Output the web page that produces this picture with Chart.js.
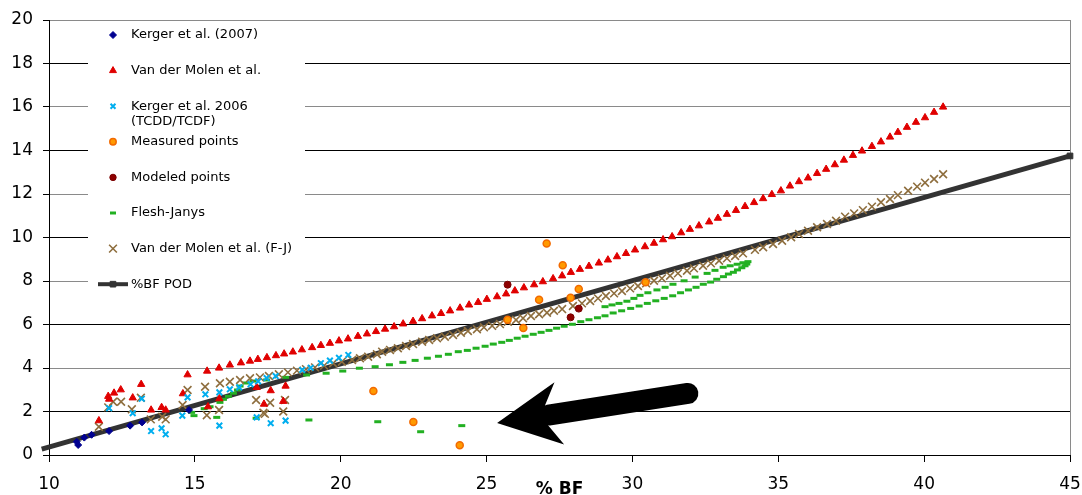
<!DOCTYPE html>
<html>
<head>
<meta charset="utf-8">
<script src="https://cdn.jsdelivr.net/npm/chart.js@4.4.1/dist/chart.umd.min.js"></script>
<style>
  body { margin: 0; background: #fff; }
</style>
</head>
<body>
<canvas id="bf" width="1082" height="495"></canvas>
<script>
// values (%BF on x, y axis 0-20)

const kerger2007X = [10.95, 11.00, 11.21, 11.46, 12.06, 12.78, 13.19, 14.80];
const kerger2007Y = [0.61, 0.46, 0.80, 0.93, 1.10, 1.35, 1.50, 2.07];

const vdmScatterX = [11.71, 12.03, 12.06, 12.23, 12.46, 12.87, 13.16, 13.50, 13.86, 14.00, 14.59, 14.75, 15.45, 15.84, 17.12, 17.37, 17.60, 18.03, 18.11];
const vdmScatterY = [1.58, 2.70, 2.57, 2.85, 3.00, 2.63, 3.25, 2.07, 2.19, 2.07, 2.82, 3.69, 2.22, 2.59, 3.11, 2.34, 2.96, 2.47, 3.17];
const vdmCurveX = [15.42, 15.83, 16.20, 16.58, 16.89, 17.16, 17.47, 17.78, 18.06, 18.36,
  18.67, 19.02, 19.32, 19.63, 19.94, 20.25, 20.59, 20.90, 21.21, 21.52,
  21.83, 22.14, 22.48, 22.79, 23.13, 23.44, 23.75, 24.09, 24.40, 24.71,
  25.01, 25.36, 25.67, 25.97, 26.28, 26.63, 26.93, 27.28, 27.59, 27.89,
  28.20, 28.51, 28.85, 29.16, 29.47, 29.78, 30.09, 30.43, 30.74, 31.05,
  31.36, 31.67, 31.97, 32.28, 32.63, 32.93, 33.24, 33.55, 33.86, 34.17,
  34.48, 34.78, 35.09, 35.40, 35.71, 36.02, 36.33, 36.64, 36.94, 37.25,
  37.56, 37.87, 38.21, 38.52, 38.83, 39.10, 39.41, 39.72, 40.03, 40.34, 40.65];
const vdmCurveY = [3.86, 4.00, 4.14, 4.24, 4.32, 4.40, 4.48, 4.57, 4.65, 4.74,
  4.84, 4.94, 5.04, 5.14, 5.25, 5.34, 5.46, 5.57, 5.68, 5.79,
  5.90, 6.03, 6.15, 6.27, 6.40, 6.51, 6.63, 6.76, 6.90, 7.02,
  7.16, 7.28, 7.41, 7.55, 7.69, 7.83, 7.97, 8.11, 8.24, 8.40,
  8.54, 8.68, 8.83, 8.97, 9.12, 9.27, 9.43, 9.58, 9.74, 9.90,
  10.04, 10.22, 10.38, 10.54, 10.72, 10.89, 11.07, 11.25, 11.43, 11.61,
  11.79, 11.98, 12.15, 12.37, 12.57, 12.74, 12.95, 13.14, 13.35, 13.56,
  13.78, 13.98, 14.19, 14.40, 14.62, 14.84, 15.07, 15.30, 15.51, 15.76, 16.00];

const kerger2006X = [12.06, 12.87, 13.18, 13.50, 13.86, 14.00, 14.57, 14.75, 15.36, 15.84, 15.84, 16.20, 16.52,
  16.91, 17.17, 17.46, 17.77, 17.12, 17.60, 18.11, 18.68, 18.97, 19.32, 19.63, 19.94, 20.26];
const kerger2006Y = [2.15, 1.92, 2.59, 1.10, 1.23, 0.95, 1.81, 2.65, 2.79, 2.88, 1.35, 3.02, 3.11,
  3.25, 3.39, 3.54, 3.63, 1.73, 1.46, 1.58, 3.91, 4.01, 4.22, 4.34, 4.47, 4.60];

const measuredX = [21.12, 22.49, 24.08, 25.72, 26.26, 26.80, 27.06, 27.61, 27.88, 28.16, 30.45];
const measuredY = [2.94, 1.52, 0.45, 6.22, 5.84, 7.14, 9.72, 8.72, 7.23, 7.63, 7.94];

const modeledX = [25.72, 27.88, 28.16];
const modeledY = [7.83, 6.33, 6.73];

const fjLowerX = [14.89, 14.97, 15.32, 15.52, 15.86, 15.98, 16.15, 16.32, 16.46, 16.55, 16.75, 16.99, 17.46,
  18.11, 18.83, 19.50, 20.07, 20.64, 21.18, 21.67, 22.13, 22.55, 22.97, 23.35, 23.69, 24.03, 24.34,
  24.64, 24.95, 25.23, 25.52, 25.78, 26.05, 26.32, 26.60, 26.87, 27.14, 27.40, 27.66, 27.94, 28.23,
  28.51, 28.80, 29.06, 29.34, 29.63, 29.94, 30.23, 30.51, 30.80, 31.09, 31.38, 31.65, 31.92, 32.18,
  32.43, 32.68, 32.89, 33.12, 33.29, 33.46, 33.60, 33.75, 33.86, 33.92];
const fjLowerY = [1.96, 1.81, 2.13, 2.22, 2.42, 2.56, 2.70, 2.84, 2.99, 3.17, 3.31, 3.40, 3.45,
  3.57, 3.68, 3.76, 3.86, 3.99, 4.06, 4.15, 4.26, 4.35, 4.45, 4.54, 4.63, 4.75, 4.81,
  4.91, 5.00, 5.10, 5.18, 5.27, 5.37, 5.46, 5.55, 5.64, 5.73, 5.83, 5.92, 6.01, 6.13,
  6.22, 6.31, 6.40, 6.53, 6.63, 6.74, 6.85, 6.97, 7.09, 7.20, 7.32, 7.46, 7.59, 7.71,
  7.85, 7.95, 8.08, 8.20, 8.32, 8.40, 8.51, 8.61, 8.70, 8.78];
const fjUpperX = [29.06, 29.30, 29.54, 29.81, 30.05, 30.26, 30.53, 30.84, 31.12, 31.39, 31.77, 32.15, 32.56, 32.83, 33.11, 33.35, 33.59, 33.79, 33.96];
const fjUpperY = [6.82, 6.90, 6.97, 7.07, 7.20, 7.34, 7.46, 7.59, 7.71, 7.85, 8.01, 8.18, 8.35, 8.49, 8.63, 8.70, 8.77, 8.84, 8.89];
const fjLooseX = [15.75, 17.10, 18.91, 21.27, 22.74, 24.15];
const fjLooseY = [1.73, 1.69, 1.61, 1.53, 1.07, 1.35];

const vdmFjScatterX = [11.71, 12.03, 12.20, 12.47, 12.84, 13.15, 13.49, 13.88, 14.00, 14.58, 14.75, 15.41, 15.83, 17.10, 17.35, 17.40, 17.58, 18.03, 18.09];
const vdmFjScatterY = [1.30, 2.19, 2.45, 2.45, 2.10, 2.63, 1.64, 1.76, 1.64, 2.30, 2.99, 1.83, 2.07, 2.53, 1.94, 1.89, 2.40, 2.00, 2.53];
const vdmFjCurveX = [15.35, 15.86, 16.20, 16.55, 16.89, 17.23, 17.54, 17.88, 18.19, 18.50,
  18.81, 19.12, 19.43, 19.74, 20.04, 20.39, 20.66, 20.94, 21.24, 21.42,
  21.69, 21.96, 22.24, 22.48, 22.79, 23.03, 23.30, 23.57, 23.85, 24.12,
  24.36, 24.67, 24.91, 25.19, 25.46, 25.73, 26.01, 26.25, 26.52, 26.80,
  27.07, 27.31, 27.59, 27.96, 28.27, 28.55, 28.82, 29.09, 29.37, 29.64,
  29.92, 30.19, 30.47, 30.74, 31.01, 31.29, 31.56, 31.87, 32.11, 32.42,
  32.69, 32.97, 33.24, 33.52, 33.79, 34.20, 34.48, 34.82, 35.13, 35.44,
  35.71, 36.02, 36.33, 36.67, 36.98, 37.29, 37.60, 37.90, 38.21, 38.52,
  38.83, 39.10, 39.45, 39.76, 40.03, 40.34, 40.65];
const vdmFjCurveY = [3.14, 3.30, 3.37, 3.45, 3.53, 3.57, 3.63, 3.71, 3.80, 3.88,
  3.95, 4.03, 4.11, 4.22, 4.29, 4.37, 4.45, 4.52, 4.63, 4.75,
  4.83, 4.91, 5.01, 5.10, 5.21, 5.29, 5.37, 5.44, 5.52, 5.62,
  5.70, 5.78, 5.87, 5.94, 6.02, 6.13, 6.21, 6.29, 6.39, 6.47,
  6.54, 6.63, 6.71, 6.85, 6.97, 7.08, 7.20, 7.31, 7.43, 7.54,
  7.66, 7.77, 7.89, 8.01, 8.12, 8.24, 8.35, 8.47, 8.58, 8.70,
  8.81, 8.93, 9.04, 9.15, 9.27, 9.43, 9.55, 9.70, 9.85, 10.01,
  10.16, 10.31, 10.47, 10.62, 10.77, 10.96, 11.11, 11.26, 11.42, 11.62,
  11.77, 11.95, 12.15, 12.34, 12.52, 12.69, 12.91];

const podX = [9.75, 45];
const podY = [0.27, 13.75];

// arrow annotation: tip and tail in axis units
const arrowTip = [25.36, 1.47];
const arrowTail = [31.90, 2.83];

function pts(xs, ys) {
  return xs.map((x, i) => ({ x: x, y: ys[i] }));
}

Chart.defaults.font.family = '"DejaVu Sans", Verdana, sans-serif';
Chart.defaults.color = '#000';

// legend drawn inside the plot, over the gridlines
const legendBox = {
  id: 'legendBox',
  beforeDatasetsDraw(chart) {
    const c = chart.ctx;
    c.save();
    c.fillStyle = '#fff';
    c.fillRect(88, 21, 217, 278);
    c.font = '13px "DejaVu Sans", Verdana, sans-serif';
    c.textBaseline = 'middle';
    chart.data.datasets.forEach((ds, i) => {
      const y = 35 + i * 35.6;
      if (ds.showLine) {
        c.strokeStyle = ds.borderColor;
        c.lineWidth = 4;
        c.beginPath();
        c.moveTo(98, y);
        c.lineTo(128, y);
        c.stroke();
      }
      c.fillStyle = ds.backgroundColor;
      c.strokeStyle = ds.pointBorderColor || ds.borderColor;
      c.lineWidth = ds.pointBorderWidth || 1;
      Chart.helpers.drawPoint(c, {
        pointStyle: ds.pointStyle,
        radius: ds.legendRadius,
        borderWidth: ds.pointBorderWidth || 1,
        rotation: 0
      }, 113, y);
      c.fillStyle = '#000';
      ds.label.split('\n').forEach((line, k) => {
        c.fillText(line, 131, y + k * 15);
      });
    });
    c.restore();
  }
};

const arrowPlugin = {
  id: 'arrow',
  afterDatasetsDraw(chart) {
    const xs = chart.scales.x, ys = chart.scales.y, c = chart.ctx;
    const tx = xs.getPixelForValue(arrowTip[0]), ty = ys.getPixelForValue(arrowTip[1]);
    const ex = xs.getPixelForValue(arrowTail[0]), ey = ys.getPixelForValue(arrowTail[1]);
    const len = Math.hypot(ex - tx, ey - ty);
    const ux = (ex - tx) / len, uy = (ey - ty) / len;
    const nx = -uy, ny = ux;
    const P = (a, b) => [tx + ux * a + nx * b, ty + uy * a + ny * b];
    c.save();
    c.fillStyle = '#000';
    c.strokeStyle = '#000';
    c.lineWidth = 21;
    c.lineCap = 'round';
    c.beginPath();
    const s = P(52, 0);
    c.moveTo(s[0], s[1]);
    c.lineTo(ex, ey);
    c.stroke();
    c.beginPath();
    [P(0, 0), P(63, -31.5), P(50, -10), P(50, 10), P(63, 31.5)].forEach((p, i) => {
      if (i) c.lineTo(p[0], p[1]); else c.moveTo(p[0], p[1]);
    });
    c.closePath();
    c.fill();
    c.restore();
  }
};

const axisTitle = {
  id: 'axisTitle',
  afterDraw(chart) {
    const a = chart.chartArea, c = chart.ctx;
    c.save();
    c.font = 'bold 17px "DejaVu Sans", Verdana, sans-serif';
    c.fillStyle = '#000';
    c.textAlign = 'center';
    c.textBaseline = 'alphabetic';
    c.fillText('% BF', (a.left + a.right) / 2, 494);
    c.restore();
  }
};

new Chart(document.getElementById('bf'), {
  type: 'scatter',
  data: {
    datasets: [
      {
        label: 'Kerger et al. (2007)',
        data: pts(kerger2007X, kerger2007Y),
        pointStyle: 'rectRot', pointRadius: 3.5, legendRadius: 3.5,
        backgroundColor: '#000090', borderColor: '#000090', pointBorderWidth: 1,
        order: 1
      },
      {
        label: 'Van der Molen et al.',
        data: pts(vdmScatterX.concat(vdmCurveX), vdmScatterY.concat(vdmCurveY)),
        pointStyle: 'triangle', pointRadius: 4.2, legendRadius: 4,
        backgroundColor: '#E00000', borderColor: '#E00000', pointBorderWidth: 1,
        order: 3
      },
      {
        label: 'Kerger et al. 2006\n(TCDD/TCDF)',
        data: pts(kerger2006X, kerger2006Y),
        pointStyle: 'crossRot', pointRadius: 4, legendRadius: 3.5,
        backgroundColor: '#00AEEF', borderColor: '#00AEEF', pointBorderWidth: 2,
        order: 2
      },
      {
        label: 'Measured points',
        data: pts(measuredX, measuredY),
        pointStyle: 'circle', pointRadius: 3.5, legendRadius: 3.2,
        backgroundColor: '#FF9A00', borderColor: '#F26A00', pointBorderWidth: 1.5,
        order: 0
      },
      {
        label: 'Modeled points',
        data: pts(modeledX, modeledY),
        pointStyle: 'circle', pointRadius: 3.5, legendRadius: 3.2,
        backgroundColor: '#8E0000', borderColor: '#7A0000', pointBorderWidth: 1,
        order: 0
      },
      {
        label: 'Flesh-Janys',
        data: pts(fjLowerX.concat(fjUpperX, fjLooseX), fjLowerY.concat(fjUpperY, fjLooseY)),
        pointStyle: 'line', pointRadius: 3.5, legendRadius: 3,
        backgroundColor: '#22B022', borderColor: '#22B022', pointBorderWidth: 3,
        order: 5
      },
      {
        label: 'Van der Molen et al. (F-J)',
        data: pts(vdmFjScatterX.concat(vdmFjCurveX), vdmFjScatterY.concat(vdmFjCurveY)),
        pointStyle: 'crossRot', pointRadius: 5.5, legendRadius: 5.5,
        backgroundColor: '#8E6E3E', borderColor: '#8E6E3E', pointBorderWidth: 1.6,
        order: 4
      },
      {
        label: '%BF POD',
        data: pts(podX, podY),
        showLine: true,
        borderColor: '#333333', borderWidth: 5,
        backgroundColor: '#333333',
        pointStyle: 'rect', pointRadius: [0, 4], legendRadius: 4, pointBorderWidth: 1,
        clip: 10,
        order: 10
      }
    ]
  },
  options: {
    responsive: false,
    animation: false,
    layout: { padding: { top: 20, right: 12, left: 0, bottom: 0 } },
    plugins: {
      legend: { display: false },
      tooltip: { enabled: false }
    },
    scales: {
      x: {
        type: 'linear', min: 10, max: 45,
        ticks: { stepSize: 5, padding: 12, font: { size: 17 }, color: '#000' },
        grid: {
          drawOnChartArea: true,
          color: ctx => (ctx.tick && ctx.tick.value === 45) ? '#8a8a8a' : 'rgba(0,0,0,0)',
          tickColor: '#000', tickLength: 7, lineWidth: 1
        },
        border: { color: '#000', width: 1 },
        afterFit: s => { s.height = 40; s.paddingRight = 0; s.paddingLeft = 0; }
      },
      y: {
        type: 'linear', min: 0, max: 20,
        ticks: { stepSize: 2, padding: 10, font: { size: 17 }, color: '#000' },
        grid: {
          color: ctx => (ctx.tick && ctx.tick.value % 4 === 0) ? '#8a8a8a' : '#000',
          tickColor: '#000', tickLength: 6, lineWidth: 1
        },
        border: { color: '#000', width: 1 },
        afterFit: s => { s.width = 49; s.paddingTop = 0; s.paddingBottom = 0; }
      }
    }
  },
  plugins: [legendBox, arrowPlugin, axisTitle]
});
</script>
</body>
</html>
